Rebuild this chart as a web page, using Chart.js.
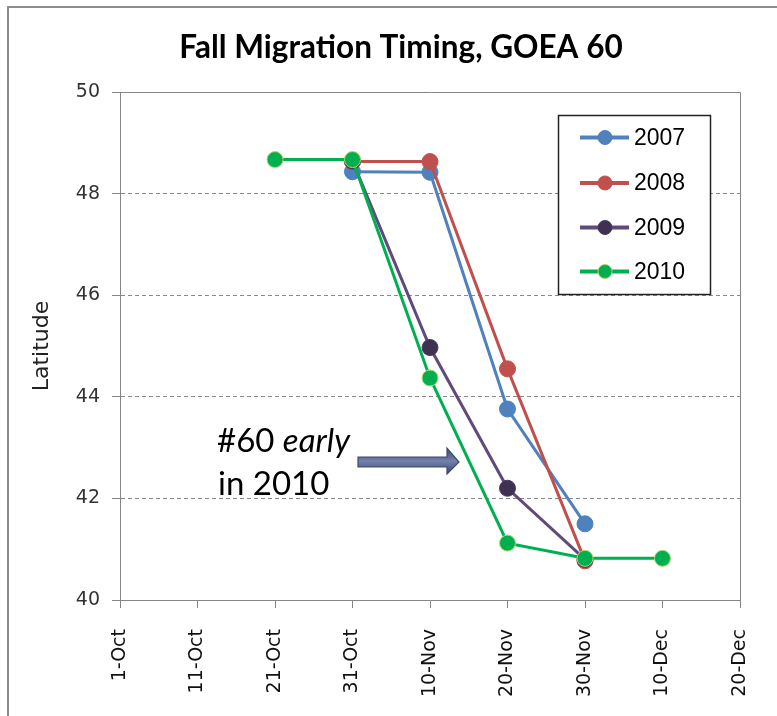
<!DOCTYPE html>
<html><head><meta charset="utf-8">
<script src="https://cdn.jsdelivr.net/npm/chart.js@4.4.1/dist/chart.umd.min.js"></script>
<style>html,body{margin:0;padding:0;background:#fff}canvas{display:block}</style>
</head><body>
<canvas id="c" width="777" height="716"></canvas>
<script>
// ---- data ----
const tickLabels = ['1-Oct','11-Oct','21-Oct','31-Oct','10-Nov','20-Nov','30-Nov','10-Dec','20-Dec'];
const seriesNames = ['2007','2008','2009','2010'];
// x values are days after 1-Oct
const days2007 = [30, 40, 50, 60];
const lat2007  = [48.43, 48.42, 43.76, 41.5];
const days2008 = [30, 40, 50, 60];
const lat2008  = [48.63, 48.63, 44.55, 40.77];
const days2009 = [30, 40, 50, 60];
const lat2009  = [48.64, 44.97, 42.2, 40.8];
const days2010 = [20, 30, 40, 50, 60, 70];
const lat2010  = [48.67, 48.67, 44.37, 41.12, 40.82, 40.82];
const annotationLine1 = ['#60 ', 'early'];
const annotationLine2 = 'in 2010';

const pts = (xs, ys) => xs.map((x, i) => ({x: x, y: ys[i]}));

const styles = [
  {line:'#4F81BD', fill:'#4F81BD', border:'#4F81BD'},
  {line:'#C0504D', fill:'#C0504D', border:'#C0504D'},
  {line:'#604A7B', fill:'#3F3151', border:'#4A3A63'},
  {line:'#00B050', fill:'#00B050', border:'#B8D468'}
];
const seriesData = [pts(days2007, lat2007), pts(days2008, lat2008), pts(days2009, lat2009), pts(days2010, lat2010)];

const datasets = seriesNames.map((n, i) => ({
  label: n,
  data: seriesData[i],
  yAxisID: 'y',
  borderColor: styles[i].line,
  backgroundColor: styles[i].fill,
  pointBackgroundColor: styles[i].fill,
  pointBorderColor: styles[i].border,
  pointBorderWidth: 1,
  pointRadius: 8,
  pointHoverRadius: 8,
  borderWidth: 3,
  tension: 0,
  order: 4 - i
}));

const framePlugin = {
  id: 'frame',
  beforeDraw(chart) {
    const c = chart.ctx;
    c.save();
    c.fillStyle = '#fff';
    c.fillRect(0, 0, chart.width, chart.height);
    c.strokeStyle = '#8c8c8c';
    c.lineWidth = 2;
    c.beginPath();
    c.moveTo(8, chart.height + 2);
    c.lineTo(8, 7);
    c.lineTo(chart.width + 2, 7);
    c.stroke();
    c.restore();
  },
  beforeDatasetsDraw(chart) {
    const a = chart.chartArea, c = chart.ctx;
    c.save();
    c.strokeStyle = '#868686';
    c.lineWidth = 1;
    c.beginPath();
    c.moveTo(Math.round(a.left) + 0.5, Math.round(a.top) + 0.5);
    c.lineTo(Math.round(a.right) + 0.5, Math.round(a.top) + 0.5);
    c.lineTo(Math.round(a.right) + 0.5, Math.round(a.bottom) + 0.5);
    c.stroke();
    c.restore();
  }
};

const legendPlugin = {
  id: 'customLegend',
  afterDatasetsDraw(chart) {
    const c = chart.ctx, a = chart.chartArea;
    const x0 = a.right - 182, y0 = a.top + 23, w = 152, h = 179;
    c.save();
    c.fillStyle = '#fff';
    c.fillRect(x0, y0, w, h);
    c.strokeStyle = '#222';
    c.lineWidth = 1.5;
    c.strokeRect(x0 + 0.5, y0 + 0.5, w, h);
    const rows = [22.5, 68, 112.5, 156.5];
    chart.data.datasets.forEach((ds, i) => {
      const y = y0 + rows[i];
      c.strokeStyle = ds.borderColor;
      c.lineWidth = 4;
      c.beginPath();
      c.moveTo(x0 + 22, y);
      c.lineTo(x0 + 71, y);
      c.stroke();
      c.beginPath();
      c.arc(x0 + 47, y, 7, 0, Math.PI * 2);
      c.fillStyle = ds.pointBackgroundColor;
      c.fill();
      c.lineWidth = 1;
      c.strokeStyle = ds.pointBorderColor;
      c.stroke();
      c.fillStyle = '#000';
      c.font = '23px "Liberation Sans", Arial, sans-serif';
      c.textBaseline = 'middle';
      c.textAlign = 'left';
      c.fillText(ds.label, x0 + 76, y + 1);
    });
    c.restore();
  }
};

const annotationPlugin = {
  id: 'annot',
  afterDatasetsDraw(chart) {
    const c = chart.ctx;
    c.save();
    c.fillStyle = '#000';
    c.textBaseline = 'alphabetic';
    c.textAlign = 'left';
    c.font = '33px Lato, "Open Sans", sans-serif';
    c.fillText(annotationLine1[0], 217, 452);
    const w = c.measureText(annotationLine1[0]).width;
    c.font = 'italic 33px Lato, "Open Sans", sans-serif';
    c.fillText(annotationLine1[1], 217 + w, 452);
    c.font = '33px Lato, "Open Sans", sans-serif';
    c.fillText(annotationLine2, 218, 495);
    // arrow
    const g = c.createLinearGradient(0, 448, 0, 474);
    g.addColorStop(0, '#3d4669');
    g.addColorStop(0.5, '#7382ad');
    g.addColorStop(1, '#3d4669');
    c.beginPath();
    c.moveTo(358, 457);
    c.lineTo(447, 457);
    c.lineTo(447, 448);
    c.lineTo(459, 462);
    c.lineTo(447, 474);
    c.lineTo(447, 467);
    c.lineTo(358, 467);
    c.closePath();
    c.fillStyle = g;
    c.fill();
    c.strokeStyle = '#3f4a6e';
    c.lineWidth = 1.2;
    c.stroke();
    c.restore();
  }
};

new Chart(document.getElementById('c'), {
  type: 'line',
  data: { datasets: datasets },
  plugins: [framePlugin, legendPlugin, annotationPlugin],
  options: {
    responsive: false,
    animation: false,
    devicePixelRatio: 1,
    layout: { padding: { left: 25, right: 0, top: 0, bottom: 0 } },
    plugins: {
      legend: { display: false },
      tooltip: { enabled: false },
      title: {
        display: true,
        text: 'Fall Migration Timing, GOEA 60',
        color: '#000',
        font: { family: 'Lato, "Open Sans", sans-serif', size: 31.5, weight: 'bold', lineHeight: 1.2 },
        padding: { top: 29, bottom: 25.2 }
      }
    },
    scales: {
      x: {
        type: 'linear',
        min: 0, max: 80,
        afterFit(scale) { scale.height = 116; scale.paddingLeft = 0; scale.paddingRight = 0; },
        afterBuildTicks(scale) { scale.ticks = tickLabels.map((t, i) => ({value: i * 10})); },
        ticks: {
          stepSize: 10,
          autoSkip: false,
          minRotation: 90, maxRotation: 90,
          padding: 21,
          color: '#111',
          font: { family: '"DejaVu Sans", sans-serif', size: 19 },
          callback: (v, i) => tickLabels[i]
        },
        grid: { drawOnChartArea: false, drawTicks: true, tickLength: 8, tickColor: '#868686', color: '#868686' },
        border: { display: true, color: '#868686', width: 1 }
      },
      y: {
        position: 'left',
        min: 40, max: 50,
        afterFit(scale) { scale.width = 95; },
        ticks: {
          stepSize: 2,
          padding: 12,
          color: '#333',
          font: { family: '"DejaVu Sans", sans-serif', size: 19 }
        },
        title: {
          display: true,
          text: 'Latitude',
          color: '#222',
          font: { family: '"DejaVu Sans", sans-serif', size: 22 },
          padding: { top: 4, bottom: 0 }
        },
        grid: {
          drawTicks: true, tickLength: 8, tickColor: '#868686', tickBorderDash: [],
          color: (ctx) => (ctx.tick && (ctx.tick.value === 40 || ctx.tick.value === 50)) ? 'rgba(0,0,0,0)' : '#8a8a8a',
          lineWidth: 1
        },
        border: { display: true, color: '#868686', width: 1, dash: [4, 3] }
      },
      yPad: {
        position: 'right',
        display: true,
        afterFit(scale) { scale.width = 37; },
        ticks: { display: false },
        grid: { display: false, drawTicks: false },
        border: { display: false },
        title: { display: false }
      }
    }
  }
});
</script>
</body></html>
